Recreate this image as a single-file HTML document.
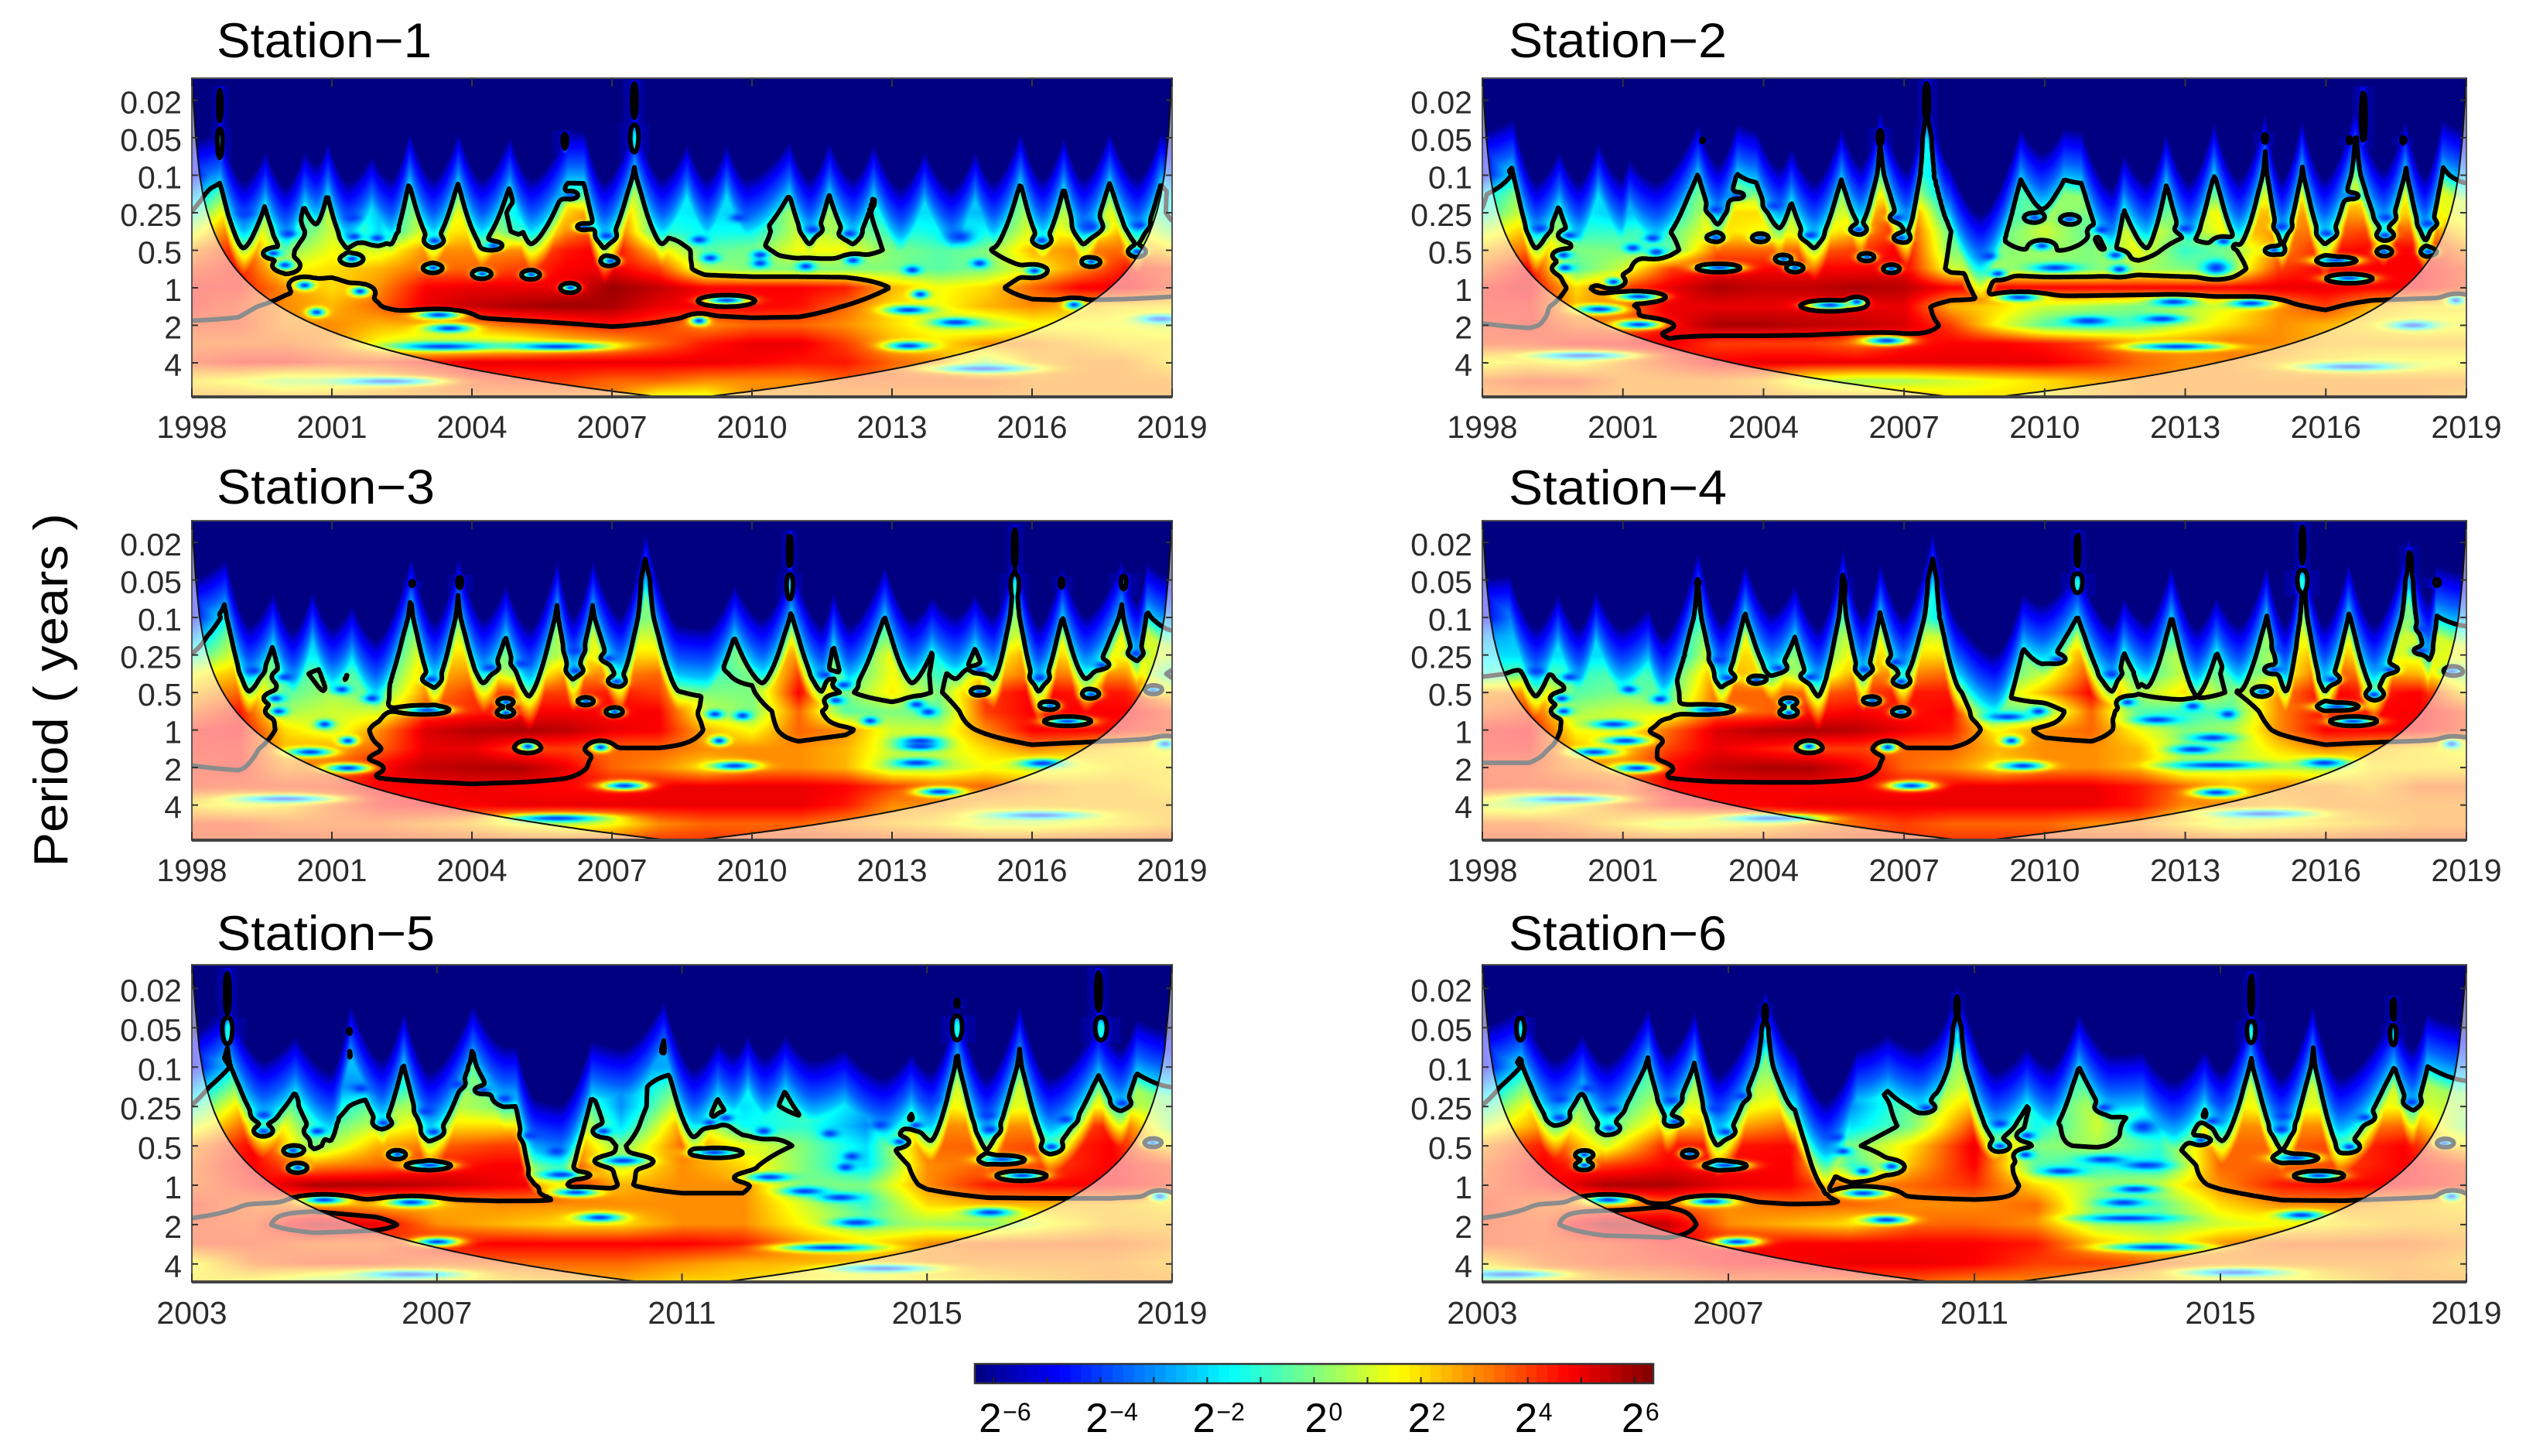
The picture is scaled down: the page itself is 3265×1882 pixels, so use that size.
<!DOCTYPE html>
<html lang="en">
<head>
<meta charset="utf-8">
<title>Wavelet power spectra, stations 1 to 6</title>
<style>
html,body{margin:0;padding:0;background:#fff;}
#page{position:relative;width:3265px;height:1882px;overflow:hidden;background:#fff;font-family:"Liberation Sans",sans-serif;}
#page canvas{position:absolute;display:block;}
#overlay{position:absolute;left:0;top:0;}
</style>
</head>
<body>
<div id="page">
<svg id="overlay" width="3265" height="1882" viewBox="0 0 3265 1882" xmlns="http://www.w3.org/2000/svg">
  <text x="280" y="74" font-size="63" fill="#000" textLength="278" lengthAdjust="spacingAndGlyphs">Station−1</text>
  <text x="1950" y="74" font-size="63" fill="#000" textLength="282" lengthAdjust="spacingAndGlyphs">Station−2</text>
  <text x="280" y="651" font-size="63" fill="#000" textLength="282" lengthAdjust="spacingAndGlyphs">Station−3</text>
  <text x="1950" y="652" font-size="63" fill="#000" textLength="282" lengthAdjust="spacingAndGlyphs">Station−4</text>
  <text x="280" y="1228" font-size="63" fill="#000" textLength="282" lengthAdjust="spacingAndGlyphs">Station−5</text>
  <text x="1950" y="1228" font-size="63" fill="#000" textLength="282" lengthAdjust="spacingAndGlyphs">Station−6</text>
  <text transform="translate(87 892) rotate(-90)" text-anchor="middle" font-size="62" fill="#000" textLength="457" lengthAdjust="spacingAndGlyphs">Period ( years )</text>
</svg>
</div>
<script>
// ---- shared axis data ----
const periodTickLabels = ['0.02','0.05','0.1','0.25','0.5','1','2','4'];
const periodTickOctaves = [-5,-4,-3,-2,-1,0,1,2];
const yearTicksLong = [1998,2001,2004,2007,2010,2013,2016,2019];
const yearTicksShort = [2003,2007,2011,2015,2019];
const colorbarExponents = [-6,-4,-2,0,2,4,6];
const colorbarTickValues = [-6,-5,-4,-3,-2,-1,0,1,2,3,4,5,6];
// power grid rows, octaves of period relative to one year
const gridOctaves = [-3,-2.5,-2,-1.5,-1,-0.5,0,0.5,1,1.5,2,2.5,3];
// significance level in log2 power against octave
const sigOctaves = [-6,-4,-3,-2.5,-2,-1.5,-1,-0.5,0,0.5,1,1.5,2,3];
const sigLevels = [-4,-4,-1.9,-1.7,-1.1,-0.5,0.3,1.5,2.6,3.6,4.3,5.2,5.6,6];
// power reached at a given depth (octaves) below the top of a plume
const plumeDepths = [0,0.6,1,2.2,3];
const plumePower = [-5,-3.6,-2.3,4.5,9];

// ---- Station 1: log2 power, one column per year ----
const station1Power = [
[-5,0,-2,-1.5,-2,-1,-1,-2,0,0.5,-2,-2,-2,-2,-2,-2,-2.5,-3,-1.5,-1.5,-1,-2],
[-3,1.5,-2,-1,-2,0,0,-1.5,1.5,2.5,-1.5,-2,-2,-2,-1.5,-1.5,-2,-2,0,-0.5,0.5,-2],
[-1,3,-2,1,-2.5,1,1.5,-2,2,4,-1.5,-2,-2,1,0,-2,-2,-2.5,1,0.5,1.5,-1.5],
[1,4,-1.5,1,-2,1.5,2,-1,3,4.5,-1,-1.5,-1.5,1,0.5,-1,-1.5,-1.5,1.5,1.5,2.5,0],
[3,4.5,0,1.5,1,3,3,3,4.5,5,2,-0.5,0,1.5,1.5,0,-0.5,0,2.5,3,3.5,2],
[4,4.5,1.5,2,2.5,3.5,3.5,4,4.8,5,4,0.5,0,0,0,0,-0.5,0,1.5,3,4.5,4],
[4.5,4.5,3,2,3,4.8,5,5,5,6,5.5,4.8,4.8,4.8,4.5,2.5,1.5,2,3.5,4.8,5,4],
[4.5,4,3,2.5,3.5,5,5.5,5.8,6,5.8,5,4.8,4.8,4.6,3.5,2,1.5,2.5,3,2.5,2,2],
[4,4,3,3,2.5,2.5,3,3.5,4,4.5,4,3,3.5,3.5,3,2,1,0.5,1.5,1.5,1.5,1],
[3.5,3.5,3.5,3,1.5,0.5,0.5,1,2,2.5,3.5,4.5,5,5,4,2.5,2,3,3,2.5,2,2],
[4,4.5,4.5,4,4,4.5,5,5,5,5,5,5,4.8,4.5,4.5,3.5,3,0.5,2.5,3,3,2],
[2,1.5,0.5,1,2,3,4,4,4,3.5,3.5,3,3,3,3.5,3.5,3.5,3.5,3,3,3,3],
[3,3,3,3,3,3,3,3,3,3,1,1,3,3,3,3,3,3,3,3,3,3]];
const station1Ridge = [[0,-3.25],[0.6,-3.72],[1.1,-2.15],[1.56,-3],[2,-2.03],[2.4,-3],[2.66,-2.62],[2.9,-3.25],[3.33,-2.15],[3.84,-2.86],[4.26,-2.23],[4.65,-3.57],[5.16,-2.23],[5.7,-3.57],[6.2,-2.23],[6.8,-3.4],[7.26,-2.23],[8.04,-3.72],[8.4,-3.65],[8.83,-2.15],[9.48,-4.2],[10.07,-2.23],[10.6,-3.2],[11.03,-2.23],[11.45,-3.2],[11.88,-2.23],[12.8,-3.25],[13.23,-2.23],[13.65,-3.25],[14.16,-2.23],[14.6,-3.2],[15.18,-1.99],[15.69,-3],[16.28,-1.99],[16.78,-3],[17.17,-2.15],[17.75,-3.65],[18.22,-2.23],[18.68,-3.4],[19.1,-2.23],[19.66,-3.72],[20.25,-2.23],[20.76,-3.5],[21,-3.25]];
const station1Spots = [[1.13,-1.99],[2.06,-1.44],[1.73,-0.92],[1.98,-0.6],[3.42,-1.87],[3.47,-1.36],[3.96,-1.32],[3.42,-0.77],[5.19,-1.25],[5.16,-0.53],[6.21,-0.37],[7.26,-0.35],[6.46,-1.12],[8.1,0],[8.1,-2.46],[8.4,-1.63],[8.88,-1.38],[8.97,-0.71],[11.45,0.34,1],[10.86,-1.28],[11.1,-0.79],[12.17,-0.88],[12.17,-0.65],[13.15,-0.57],[14.16,-0.73],[15.43,-0.47],[15.6,0.18],[15.35,0.6,1],[16.36,0.93,1],[15.35,1.56,1],[16.95,2.17,2],[16.45,-1.36,3],[16.87,-0.65],[18.05,-0.45],[18.2,-1.26],[19.24,-1.63,3],[19.27,-0.69],[20.29,-1.67],[20.25,-0.96],[2.4,-0.06],[3.59,0.1],[2.66,0.66],[5.28,0.73,1],[5.5,1.09,1],[5.36,1.58,2],[7.82,1.58,2],[10.86,0.89],[4.18,2.51,2],[20.76,0.84,1],[18.9,0.46],[13.3,-1.55],[14.08,-1.44],[11.7,-1.87]];
const station1Spikes = [[0.6,-5.42,-4.3,-2.8,3],[0.6,-4.3,-3.3,-1.5,4],[9.48,-5.58,-4.4,-2.6,4],[9.48,-4.4,-3.5,-1.5,6],[7.99,-4.2,-3.53,-3,5]];

// ---- Station 2 ----
const station2Power = [
[-5,0,-2,-3,-3,0,0,-2.5,-1,0,-3,-2,-1,-1,-2.5,-2,-2,0,0,0,0,0],
[-2,1,-1.5,-2.5,-2,1,0.5,-1,1,2,-3,-1.5,0,0.5,-1.5,-1,0,1.5,1.5,1.5,1.5,1],
[-1,1.5,-1.5,-2.5,-2,2,2,0,1.5,4.5,-2,-1.5,0.5,0,-1.5,0.5,2,2.5,3,2.5,2,1],
[1,2.5,-1,-1,-0.5,2,1.5,1,2.5,4.8,-0.5,-0.5,1,-0.5,1.5,0,2,3,3.5,4,3.5,2],
[2.5,3.5,0,0,-0.5,3.5,3.5,3.5,4,5,0,0,0.5,0,1.5,-1,0,3,4.5,4.8,4.8,3],
[3.5,4.8,-0.5,1,4,4.8,4.8,4.8,4.8,5,1,0.5,0,0,0.5,0,0.5,4,4.8,4.8,4.8,4],
[4.5,5,2,4,5,5.8,5.5,5.5,5.8,5.6,4.8,4.8,4.8,4.8,4.8,4.8,4.8,5,5,4.8,4.8,4],
[4.5,4.5,2.5,3.5,5,5,5,5,5,5,2.5,2,1,0.5,0,0.5,1.5,3,4,2.5,2,2],
[4.2,4.5,3.5,3.5,4.8,5.8,5.8,5.6,5.5,5.2,4,1.5,-0.5,-1,-0.5,1,2,3,2.5,2,1.5,1.5],
[4,4,4.5,4.5,5,4,4,4,3.5,4.5,4.8,4.8,4.5,4,3,3,3.5,3,2.5,2.5,2.5,2.5],
[1.5,2,1.5,3,4,4.8,5,5,5,5,5,5,5,4.5,3.5,3,3,2.5,2,1.5,1.5,1.5],
[3.5,4,4,3,3,3,2.5,1,0.5,0.5,1,1.5,2,2.5,3,3,3,3,3,3,3,3],
[3,3,3,3,3,3,3,3,3,3,2,2,2,2.5,3,3,3,3,3,3,3,2.5]];
const station2Ridge = [[0,-3.72],[0.64,-4.2],[1.14,-2.15],[1.63,-3],[2.05,-2.15],[2.46,-3.25],[2.96,-2.23],[3.12,-2.78],[3.7,-2.15],[4.6,-4.1],[5.02,-2.62],[5.43,-4.1],[5.84,-3.9],[6.34,-2.54],[6.59,-3.1],[7.08,-2.15],[7.66,-3.96],[8.07,-2.62],[8.49,-4.44],[9.06,-2.46],[9.48,-5.15],[9.97,-2.62],[10.63,-1.28],[11.49,-3.96],[11.95,-2.94],[12.42,-3.96],[12.78,-3.72],[13.44,-1.99],[13.69,-2.94],[14.18,-2.15],[14.6,-3.49],[15.09,-2.15],[15.62,-4.12],[16.16,-2.23],[16.71,-4.36],[17.07,-2.23],[17.5,-4.2],[17.98,-2.23],[18.64,-4.51],[19.25,-2.46],[19.71,-4.2],[20.13,-2.3],[20.5,-4.2],[21,-3.72]];
const station2Spots = [[1.22,-1.58],[1.85,-1.4],[1.72,-0.87],[1.75,-0.53],[3.62,-1.32],[3.2,-1.06],[3.7,-0.95],[2.79,-0.15],[3.33,0.24,1],[2.49,0.58,1],[3.33,0.99,1],[5.43,-2.46],[4.97,-2.09],[4.97,-1.34],[5.05,-0.53,1],[6.22,-2.19],[5.93,-1.33],[6.42,-0.77],[6.67,-0.53],[7,-1.4],[8.02,-1.55],[8.85,-1.87],[8.93,-1.33],[8.2,-0.82],[8.73,-0.51],[7.41,0.47,1],[7.99,0.38],[8.62,1.42,1],[10.8,-0.84],[11,-0.37],[12.23,-0.53,1],[13.6,-0.49],[11.79,-1.87],[12.53,-1.83],[13.22,-1.55],[11.95,-1.12],[13.52,-0.87],[15,-1.58],[15.67,-0.53,3],[15.83,-1.24],[16.9,-1],[17.07,-1.63],[18.03,-1.45],[18.23,-0.73,1],[18.5,-0.25,1],[19.25,-0.96],[19.28,-1.4],[19.3,-1.87],[20.21,-1.71],[20.21,-0.96],[18.56,-2.45],[11.46,0.26,1],[12.94,0.89,1],[14.51,0.84,1],[14.76,0.38,1],[16.41,0.42,1],[14.84,1.58,2],[2.13,1.82,2],[18.56,2.12,2],[19.88,1.01,1],[20.79,0.34]];
const station2Spikes = [[9.48,-5.6,-4.3,-2.6,4],[9.48,-4.3,-3.3,-1.5,5],[18.8,-5.4,-3.7,-2.6,4],[8.49,-4.3,-3.65,-3,5],[16.7,-4.15,-3.8,-3,4],[18.5,-4.05,-3.8,-3,4],[19.65,-4.05,-3.8,-3,4],[4.7,-4,-3.85,-3,3]];

// ---- Station 3 ----
const station3Power = [
[-5,0,-2,-3,-3,0,0,-2,0,0,0,-2,0,1,-2,-1,-2,-1,1,0,1,-1],
[-3,1,-1.5,-3,-2.5,1,1,-2,1,1,1,-2,0,1.5,-1.5,0,-2,0,1.5,1,1.5,0.5],
[-1,1.5,-1.5,-2,-2.5,2,2,-1,1,2,2,-2,1,3,-1.5,1.5,-1.5,1,3,1.5,1.5,1],
[1.5,2.5,-1,0,-1.5,2.5,3,0,3,3,3.5,-1,0,4,-1,1.5,-1,2,3.5,3,3,-1],
[2.5,3.5,-0.5,0.5,-0.5,3,4,4,4,4.5,4,0,0,4.8,0,1.8,0,4,4.8,4.5,4.5,2],
[3.5,4.5,0.5,1,1,4,4.3,4.8,4.8,4.8,4.8,1,0,3.5,-0.5,0,-0.5,4,4.8,4.8,4.8,4],
[4.5,4.8,2,1,3,5.2,5.7,5.8,5.6,5,4.8,2.5,1.5,3.5,3,1,1,3,4.8,4.8,4.5,4],
[4.5,4.5,2.5,3,3.5,5,5,4,4,3.5,3.5,3,3,3,2.5,1,1,2,3,2.5,2,1.5],
[4.2,4.5,3,3.5,4.8,5.5,5.7,5.8,5,3.5,3,2,3,3,2.5,0.5,0.5,1.5,1,1.5,2,2],
[4.2,4,4,4,4.8,4.8,5,4.8,4.7,4.6,5,5,5,5,4.8,4,3.5,3.5,3,2.5,2.5,2],
[2,1.5,2,3.5,4.5,4.8,4.8,5,5,5,5,5,5,5,4.5,3,3,2.5,2.5,2.5,2.5,2.5],
[4,4,3.5,3.5,3.5,3,2.5,1.5,1,1.5,3,3.5,3.5,3.5,3,2.5,2,1,1,1.5,2,2.5],
[4,4,4,4,4,4,4,4,4,4,4.2,4.2,4,4,4,4,4,4,4,4,4,4]];
const station3Ridge = [[0,-3.4],[0.71,-4.26],[1.22,-2.13],[1.73,-3.04],[2.15,-1.97],[2.57,-3.08],[3,-2.05],[3.42,-2.68],[3.93,-1.74],[4.69,-4.34],[5.19,-2.21],[5.7,-4.34],[6.24,-2.29],[6.72,-3.25],[7.22,-2.05],[7.82,-4.26],[8.16,-2.37],[8.58,-4.26],[9.17,-2.37],[9.71,-5],[10.44,-2.13],[11,-2.05],[11.62,-3.24],[12.22,-2.29],[12.84,-4.18],[13.49,-2.13],[13.74,-3.08],[14.08,-2.13],[14.84,-4.1],[15.43,-2.29],[15.85,-2.92],[16.36,-2.37],[16.78,-3],[17.17,-2.37],[17.63,-4.74],[18.14,-2.13],[18.65,-4.1],[19.15,-2.37],[19.92,-4.26],[20.25,-2.76],[20.46,-4.18],[21,-3.4]];
const station3Spots = [[1.3,-1.59],[1.98,-1.42],[1.78,-0.85],[1.84,-0.51],[3.2,-1.09],[3.84,-0.85],[2.83,-0.16],[3.33,0.28],[2.52,0.58,1],[3.33,1.01,1],[9.26,1.48,1],[5.11,-1.36],[5.03,-0.54,1],[6.72,-0.75],[6.72,-0.47],[6.38,-1.67],[7.06,-1.78],[8.21,-2.13],[8.21,-1.59],[9.09,-1.3],[8.44,-0.77],[9.05,-0.49],[8.92,-1.92],[7.19,0.43],[8.75,0.45],[11.29,0.28],[11.62,0.95,1],[11.2,-0.43],[11.79,-0.39],[13.57,-1.48],[13.96,-1.21],[13.79,-0.8],[14.53,-0.25],[15.52,-0.69],[15.77,-0.49],[15.6,0.28,1],[15.6,0.43,1],[15.52,0.87,1],[18.22,0.88,1],[16.02,1.64,1],[18.14,2.27,2],[7.82,2.35,2],[1.98,1.83,2],[18.16,-1.4],[18.39,-0.65],[18.76,-0.24,1],[19.27,-0.96],[20.22,-2.05],[19.49,-1.74],[16.87,-1.62],[16.87,-1.03],[20.59,-1.07],[20.85,0.36]];
const station3Spikes = [[4.72,-4,-3.8,-3,4],[5.74,-4.15,-3.67,-3,5],[9.71,-4.3,-3.35,-2.6,4],[12.81,-5.35,-4.2,-2.8,3],[12.81,-4.2,-3.35,-1.5,5],[17.63,-5.5,-4.2,-2.6,3],[17.63,-4.2,-3.35,-1,6],[18.63,-4.1,-3.7,-3,4],[19.96,-4.2,-3.6,-3,6]];

// ---- Station 4 ----
const station4Power = [
[-5,-2,-2,-3,-3,0,-1,-2,0,0.5,-2.5,-2,-2,1,-2,-1,-2,0,0.5,0,0,-1],
[-3,-2,-1.5,-2.5,-2,1,1.5,-1.5,1.5,1,1,-2,-0.5,1.5,-2,-0.5,-1.5,1,1.5,1,1,1],
[-2,-2,-2,-2,-2.5,2,2,-1,2,2,2,-2,1,3,-1,1,-1.5,1,3,1.5,1,1.5],
[-1,0,-1,-0.5,-1,3,2,0,3,3,3.5,-1,1,4,-1,1,-1,1,4,3,2.5,0],
[3,3,-0.5,0,-0.5,3.5,3.5,3.5,4,4.5,4.5,0.5,2.5,4.8,0.5,2,0,3,4.8,4.5,4.8,2],
[3.5,4,0.5,1,1,3.5,3.5,4.5,4.8,4.5,4.8,-0.5,0,3.5,-0.5,-1,-0.5,3,4.8,4.8,4.8,4],
[4.5,4.8,1.5,1.5,3.5,5.2,5.7,5.8,5.6,5,4.5,1.5,3,3.5,1.5,0,0.5,3,4.8,4.8,4.8,4],
[4.5,4.5,2.5,2.5,4,5,4.5,4,4,3.5,3.5,2.5,3,3,2.5,0.5,0.5,2,3,2.5,2,1.5],
[4,4,3,3,4.8,5.5,5.8,5.8,5,3.5,3,2,3,3,2.5,0.5,1,1,0.5,2,2,2],
[4.2,4,4,3.5,4.8,4.8,4.8,4.8,4.8,4.7,5,5,5,5,4.5,3.5,2.5,3,3,2.5,3.5,3.5],
[1,0.5,2,3.5,4.5,4.8,4.8,5,5,5,5,5,5,5,4.5,3,3,2.5,3,3,3,3],
[3.5,3.5,3,2,1,1.5,2,3,3.5,4,3.5,3.5,3.5,3,3,2,1,1.5,2,2.5,3,3],
[4,4,4,4,4,4,4,4,4,4,4.2,4.2,4,4,4,4,4,4,4,4,4,4]];
const station4Ridge = [[0,-3.4],[0.56,-3.47],[1.14,-2.05],[1.6,-3],[2.05,-2.05],[2.41,-3.08],[2.96,-2.05],[3.53,-2.6],[3.86,-1.82],[4.6,-4.5],[5.1,-2.21],[5.6,-4.18],[6.17,-2.45],[6.67,-3.24],[7.17,-2.05],[7.69,-4.58],[8.12,-2.37],[8.49,-4.18],[8.98,-2.37],[9.61,-5],[10.22,-2.13],[10.93,-1.34],[11.54,-3],[11.95,-2.68],[12.7,-4.1],[13.44,-2.13],[13.69,-2.92],[14.18,-2.21],[14.71,-4.1],[15.25,-2.05],[15.67,-2.92],[16.16,-2.13],[16.74,-4.1],[17.15,-2.13],[17.52,-4.66],[17.98,-2.13],[18.5,-4.18],[19.04,-2.13],[19.79,-4.9],[20.21,-2.76],[20.37,-4.1],[21,-3.55]];
const station4Spots = [[1.14,-1.58],[1.85,-1.42],[1.68,-0.85],[1.72,-0.51],[3.12,-1.09],[3.78,-0.83],[2.79,-0.16,1],[3.04,0.28,1],[2.38,0.58,1],[3.29,1.01,1],[5.05,-1.88],[5.23,-1.4],[4.85,-0.55,1],[5.84,-1.34],[6.31,-1.66],[6.54,-0.75],[6.54,-0.47],[7,-1.42],[8.16,-1.62],[8.93,-1.3],[8.32,-0.79],[8.93,-0.49],[8.82,-1.82],[6.97,0.43],[8.65,0.45],[11.29,0.28],[11.54,0.95,1],[11.21,-0.36,1],[11.87,-0.51],[12.28,-1.89],[13.77,-0.75],[13.44,-1.5],[14.4,-0.28,1],[15.17,-0.65],[15.92,-0.43],[15.59,0.2,1],[15.17,0.51,1],[15.67,0.93,2],[17.98,0.87,1],[15.67,1.66,1],[16.66,2.23,2],[9.15,1.48,1],[6.17,2.35,2],[1.8,1.84,2],[18.14,-1.36],[18.26,-0.63,1],[18.59,-0.24,1],[19.04,-0.95],[20.04,-2.12],[17.07,-2.19],[19.38,-1.62],[20.08,-2.72],[20.7,0.36],[20.7,-1.58],[16.66,-1.03],[16.91,-1.62]];
const station4Spikes = [[4.6,-4,-3.83,-3,3],[7.71,-4.1,-3.24,-2.6,4],[9.61,-4.38,-3.3,-2.6,4],[12.7,-5.37,-4.2,-2.8,3],[12.7,-4.2,-3.6,-1,7],[17.5,-5.56,-4.3,-2.6,3],[17.5,-4.3,-3.6,-1,7],[19.79,-4.93,-3.3,-2.6,4],[20.37,-4.06,-3.79,-3,6]];

// ---- Station 5 ----
const station5Power = [
[-5,0,-3,-2,0,-1,-1,-3,-2.5,-2,-1.5,-3,0,-1,-1,0.5,-2],
[-3,1.5,-3,-3,1,0,-1,-3,0,-1.5,-1,-3,1,1,1,1,-0.5],
[-1,3,-2.5,0,1,0,2,-3,1.5,-2,-0.5,-2.5,2,1,1.5,1.5,0],
[1,4,-1,1,2,2,3.5,-2,3,-1.5,-1,-3,3,3,3,4.5,0],
[3,4.8,0,2.5,3.5,4,4,0,3.5,1.5,0,-2,3.5,3.5,4,4.8,2],
[3.5,4.8,3,3.5,4.5,4.8,4.8,1,3,2,0,-2,3,3.5,4,4.8,4],
[3.5,4.5,5.8,5.8,5.5,5,4.8,2.5,3,3,0,0,3,4.5,4.8,4.8,4.2],
[4.2,3.5,3,2.5,2.5,3,3,3,3,3,1,-1,2,2.5,2.5,2.5,2],
[4,3.8,5.5,5,3,2.5,2,2,3,3,1.5,0,0.5,0,1.5,2.5,2.5],
[4,4,3.5,3.5,4.7,4.8,4.8,4.8,4.8,4.5,3,2,3,3.5,3.5,3.5,3],
[1.5,3.5,4,4,3.5,3.5,3.5,3.5,3,2.5,2.5,2.5,3,3,3,3,2.5],
[2,1.5,0,0,1,2,2.5,2.5,2,2,1.5,1,1.5,2,2.5,3,3],
[2,1.5,0,0,1,2,2.5,2.5,2,2,1.5,1,1.5,2,2.5,3,3]];
const station5Ridge = [[0,-3.25],[0.58,-4.3],[1.16,-2.5],[1.68,-3.14],[2.26,-2.2],[2.58,-4.3],[3.1,-2.5],[3.45,-4.15],[3.87,-2.2],[4.58,-4.3],[5.1,-2.87],[5.29,-2.87],[5.61,-1.52],[6,-1.37],[6.52,-3.02],[7.03,-2.8],[7.7,-4.38],[8.19,-2.27],[8.58,-3.02],[8.84,-2.65],[9.07,-3.17],[9.35,-2.57],[9.68,-3.17],[10.13,-2.5],[10.65,-2.8],[11.29,-2.05],[11.74,-2.72],[12.06,-2.2],[12.49,-4.3],[12.97,-2.05],[13.51,-4.3],[14,-2.05],[14.8,-3.7],[15.16,-2.8],[15.42,-3.92],[16,-3.25]];
const station5Spots = [[1.16,-1.78],[1.16,-1.37],[2.04,-1.37],[1.64,-0.88],[1.72,-0.44],[2.75,-2.46],[3.12,-1.58],[3.35,-0.78],[3.87,-0.5,1],[3.94,-1.35],[3.81,-1.88],[4.32,-2.57],[4.74,-2.42],[5.1,-2.2],[5.51,-1.26],[5.94,-0.86],[7.03,-0.62,1],[6.03,-0.26,1],[6.26,0.19,1],[6.71,-1.37],[2.15,0.38,1],[3.57,0.44,1],[6.65,0.83,1],[4,1.45,1],[10.39,1.6,2],[8.45,-1.59],[8.71,-1.71],[9.33,-1.37],[8.52,-0.83,1],[10.41,-1.31],[10.77,-0.73],[10.67,-0.45],[9.42,-0.2,1],[10,0.16,1],[10.58,0.32,1],[10.84,0.96,1],[13.03,0.7,1],[11.29,2.13,2],[3.55,2.28,2],[11.23,-1.53],[11.81,-1.52],[11.55,-1.1],[13.03,-1.41],[13.23,-0.65,1],[13.55,-0.24,1],[14.03,-0.97],[15.19,-2.08],[12.06,-2.2],[12.99,-1.78],[14.26,-1.67],[15.68,-1.08],[15.8,0.29]];
const station5Spikes = [[0.58,-5.54,-4.2,-2.6,4],[0.58,-4.3,-3.5,-1,7],[2.57,-4,-3.8,-3,3],[4.58,-3.2,-2.68,0,9],[12.49,-4.75,-4.5,-3,3],[12.49,-4.34,-3.62,-1,7],[14.8,-5.54,-4.3,-2.6,4],[14.84,-4.3,-3.62,-1,8]];

// ---- Station 6 ----
const station6Power = [
[-5,0,-2,0,0,0,-3,-1.5,1,-3,-0.5,-3,0,-1,-1,0.5,-2],
[-3,1.5,-2,0.5,0.5,1,-2,-1,1.5,-2,0,-3,1,1,1,1,0],
[-1,2.5,-1.5,1.5,1,2,-3,0,2.5,-1.5,1,-2.5,2,1,1.5,1.5,0.5],
[1,3,-0.5,2.5,2.5,3.5,-2,0,4,-1.5,1,-2,3,3,3,3.5,0],
[3,4.5,1,4.5,4.5,4.7,0,2,5,0,0.5,-1,3.5,3.5,4,4.8,2],
[3.5,4.8,4,4.8,4.8,4.8,-1,2.5,4.8,-0.5,-1,-1.5,3.5,3.5,4,4.8,4],
[3.8,4.5,5.8,5.8,5,4.8,3,3.5,4.2,2,0.5,1,3,4.5,4.8,4.8,4.2],
[4.2,3.5,3,3.5,3,3.5,3.5,3,3,3.5,0,-0.5,2,3,3,2.5,2],
[4,3.8,5.8,5.5,3,2.5,2,3.5,3.5,3,0.5,0,1,1.5,2,2.5,2.5],
[4,3.8,4,4.6,4.8,4.8,4.8,4.8,4.8,4.5,2.5,1.5,3,3.5,3.5,3.5,3],
[2,3.5,4,4.2,4.7,4.8,5,5,4.8,4,4,3.5,3,3,3,3,2.5],
[0,2,2.5,3,3.5,3.5,3.5,3.5,3,3,2.5,2,1,1,2,3,3],
[0,2,2.5,3,3.5,3.5,3.5,3.5,3,3,2.5,2,1,1,2,3,3]];
const station6Ridge = [[0,-3.4],[0.62,-4.22],[1.18,-2.5],[1.62,-3.2],[2,-2.42],[2.69,-4.22],[3,-2.65],[3.45,-4.15],[3.82,-2.12],[4.6,-4.68],[5.08,-2.8],[5.58,-1.44],[6.09,-2.8],[6.59,-3.17],[7.09,-2.8],[7.35,-3.1],[7.72,-4.83],[8.35,-2.2],[8.86,-2.87],[9.23,-2.35],[9.7,-4.08],[10.24,-2.65],[10.74,-2.72],[11.25,-1.97],[11.75,-2.8],[12.03,-2.2],[12.5,-4.22],[13,-2.05],[13.51,-4.3],[13.95,-2.05],[14.83,-4.08],[15.14,-2.8],[15.37,-4.08],[16,-3.4]];
const station6Spots = [[1.25,-2.2],[1.25,-1.71],[1.69,-2.46],[2.1,-1.93],[2.06,-1.44],[1.65,-0.77],[1.65,-0.5],[3.07,-2.16],[3.13,-1.61],[3.37,-0.8],[3.95,-0.5,1],[3.95,-1.35],[3.79,-1.95],[4.2,-2.27],[2.04,0.38,1],[3.7,0.42,1],[6.19,0.21,1],[6.57,0.89,1],[4.14,1.45,1],[6.19,-0.35],[6.65,-0.47],[5.74,-1.22],[5.86,-0.86],[7.22,-1.97],[8.42,-1.56],[8.86,-1.26],[8.42,-0.99],[8.83,-0.77],[10.11,-0.65,1],[9.42,-0.35,1],[10.8,-0.5,1],[10.74,-1.48,3],[11.69,-1.14],[10.62,0.11,1],[10.43,0.45,1],[10.49,0.85,2],[13.32,0.77,1],[10.93,1.59,2],[12.25,2.23,2],[0.43,2.28,2],[13,-1.42],[13.23,-0.69,1],[13.61,-0.24,1],[14.11,-0.97],[15.12,-2.11],[12.03,-2.2],[13.03,-1.76],[14.36,-1.72],[11.87,-1.63],[15.65,-1.07],[15.77,0.29],[10.11,-1.97]];
const station6Spikes = [[0.62,-4.3,-3.6,-1.5,6],[4.6,-4.65,-4.1,-2.8,3],[4.6,-4.1,-3.55,-1.5,5],[7.72,-4.9,-4.1,-2.8,3],[7.72,-4.1,-3.47,-1.5,5],[12.5,-5.46,-4.2,-2.6,3],[12.5,-4.2,-3.55,-1,6],[14.81,-4.83,-4.1,-2.8,3],[14.81,-4.1,-3.47,-1.5,5]];

// ---- model constants ----
const coiFactor = 0.75;
const spotFloor = -4;

const SVG_NS = 'http://www.w3.org/2000/svg';
const page = document.getElementById('page');
const overlay = document.getElementById('overlay');
const spotSizes = [[11,5.5],[28,5.5],[60,5],[18,10]];

const stations = [
 {n:1,power:station1Power,ridge:station1Ridge,spots:station1Spots,spikes:station1Spikes,ticks:yearTicksLong,start:1998,end:2019,x0:248,x1:1515,y0:101,y1:513,yOne:372,perOct:48.5,labelY:566,labelX:235},
 {n:2,power:station2Power,ridge:station2Ridge,spots:station2Spots,spikes:station2Spikes,ticks:yearTicksLong,start:1998,end:2019,x0:1916,x1:3188,y0:101,y1:513,yOne:372,perOct:48.5,labelY:566,labelX:1903},
 {n:3,power:station3Power,ridge:station3Ridge,spots:station3Spots,spikes:station3Spikes,ticks:yearTicksLong,start:1998,end:2019,x0:248,x1:1515,y0:673,y1:1086,yOne:943.6,perOct:48.5,labelY:1139,labelX:235},
 {n:4,power:station4Power,ridge:station4Ridge,spots:station4Spots,spikes:station4Spikes,ticks:yearTicksLong,start:1998,end:2019,x0:1916,x1:3188,y0:673,y1:1086,yOne:943.6,perOct:48.5,labelY:1139,labelX:1903},
 {n:5,power:station5Power,ridge:station5Ridge,spots:station5Spots,spikes:station5Spikes,ticks:yearTicksShort,start:2003,end:2019,x0:248,x1:1515,y0:1247,y1:1657,yOne:1532,perOct:50.9,labelY:1711,labelX:235},
 {n:6,power:station6Power,ridge:station6Ridge,spots:station6Spots,spikes:station6Spikes,ticks:yearTicksShort,start:2003,end:2019,x0:1916,x1:3188,y0:1247,y1:1657,yOne:1532,perOct:50.9,labelY:1711,labelX:1903}
];

function clamp01(v){return v<0?0:(v>1?1:v);}
function jet(v){
  const x=clamp01((v+6.35)/12.7);
  return [
    Math.round(255*clamp01(Math.min(4*x-1.5,-4*x+4.5))),
    Math.round(255*clamp01(Math.min(4*x-0.5,-4*x+3.5))),
    Math.round(255*clamp01(Math.min(4*x+0.5,-4*x+2.5)))
  ];
}
function lerpTable(xs,ys,x){
  if(x<=xs[0])return ys[0];
  for(let i=1;i<xs.length;i++){
    if(x<=xs[i]){const u=(x-xs[i-1])/(xs[i]-xs[i-1]);return ys[i-1]+(ys[i]-ys[i-1])*u;}
  }
  return ys[ys.length-1];
}
function liftTop(o){
  return o-0.35*clamp01((o+3.9)/0.4);
}
function ridgeTop(ridge,t){
  for(let i=1;i<ridge.length;i++){
    if(t<=ridge[i][0]){
      const a=ridge[i-1],b=ridge[i];
      const u=clamp01((t-a[0])/Math.max(1e-6,b[0]-a[0]));
      const aO=liftTop(a[1]),bO=liftTop(b[1]);
      const aTip=aO<bO;
      const tip=aTip?aO:bO,val=aTip?bO:aO;
      const w=aTip?u:1-u;
      return tip+(val-tip)*(1-Math.pow(1-w,1.6));
    }
  }
  return liftTop(ridge[ridge.length-1][1]);
}
function plumeCap(d){
  if(d<0)return plumePower[0]+4*d;
  return lerpTable(plumeDepths,plumePower,d);
}
function gridValue(rows,t,o){
  const nc=rows[0].length;
  const last=gridOctaves.length-1;
  const rf=Math.max(0,Math.min(last,(o-gridOctaves[0])/0.5));
  const cf=Math.max(0,Math.min(nc-1,t));
  const r=Math.min(last-1,Math.floor(rf)),c=Math.min(nc-2,Math.floor(cf));
  const ru=rf-r,cu=cf-c;
  return (rows[r][c]*(1-cu)+rows[r][c+1]*cu)*(1-ru)+(rows[r+1][c]*(1-cu)+rows[r+1][c+1]*cu)*ru;
}

function buildField(s){
  const step=2;
  const w=s.x1-s.x0,h=s.y1-s.y0;
  const nx=Math.floor(w/step)+1,ny=Math.floor(h/step)+1;
  const span=s.end-s.start;
  const pxPerYear=w/span;
  const xOf=t=>s.x0+t*pxPerYear;
  const yOf=o=>s.yOne+o*s.perOct;
  const tOfI=i=>(i*step)/pxPerYear;
  const oOfJ=j=>(s.y0+j*step-s.yOne)/s.perOct;
  const f=new Float32Array(nx*ny);
  const tops=new Float32Array(nx);
  for(let i=0;i<nx;i++)tops[i]=ridgeTop(s.ridge,tOfI(i));
  for(let j=0;j<ny;j++){
    const o=oOfJ(j);
    for(let i=0;i<nx;i++){
      const body=gridValue(s.power,tOfI(i),o);
      const cap=plumeCap(o-tops[i]);
      f[j*nx+i]=Math.max(-6.35,Math.min(body,cap));
    }
  }
  s.spots.forEach(function(sp){
    const size=spotSizes[sp[2]||0];
    const cx=(xOf(sp[0])-s.x0)/step,cy=(yOf(sp[1])-s.y0)/step;
    const rx=size[0]/step,ry=size[1]/step;
    const i0=Math.max(0,Math.floor(cx-rx*3)),i1=Math.min(nx-1,Math.ceil(cx+rx*3));
    const j0=Math.max(0,Math.floor(cy-ry*3)),j1=Math.min(ny-1,Math.ceil(cy+ry*3));
    for(let j=j0;j<=j1;j++)for(let i=i0;i<=i1;i++){
      const dx=(i-cx)/rx,dy=(j-cy)/ry;
      const g=Math.exp(-(dx*dx+dy*dy));
      const k=j*nx+i;
      f[k]=f[k]+g*(Math.min(f[k],spotFloor)-f[k]);
    }
  });
  s.spikes.forEach(function(sk){
    const cx=(xOf(sk[0])-s.x0)/step,wd=sk[4]/step;
    const i0=Math.max(0,Math.floor(cx-wd*3)),i1=Math.min(nx-1,Math.ceil(cx+wd*3));
    for(let j=0;j<ny;j++){
      const o=oOfJ(j);
      if(o<sk[1]||o>sk[2])continue;
      const taper=Math.sqrt(Math.sin(Math.PI*(o-sk[1])/(sk[2]-sk[1])));
      for(let i=i0;i<=i1;i++){
        const dx=(i-cx)/wd;
        const g=Math.exp(-dx*dx)*taper;
        const k=j*nx+i;
        f[k]=Math.max(f[k],-6+(sk[3]+6)*g);
      }
    }
  });
  return {f,nx,ny,step,oOfJ};
}

function drawHeat(s,fd){
  const cv=document.createElement('canvas');
  
  
  cv.width=fd.nx;cv.height=fd.ny;
  cv.style.left=s.x0+'px';cv.style.top=s.y0+'px';
  cv.style.width=(s.x1-s.x0)+'px';cv.style.height=(s.y1-s.y0)+'px';
  const ctx=cv.getContext('2d');
  const im=ctx.createImageData(fd.nx,fd.ny);
  for(let k=0;k<fd.f.length;k++){
    const c=jet(fd.f[k]);
    im.data[k*4]=c[0];im.data[k*4+1]=c[1];im.data[k*4+2]=c[2];im.data[k*4+3]=255;
  }
  ctx.putImageData(im,0,0);
  page.insertBefore(cv,overlay);
}

function contourPath(s,fd){
  const nx=fd.nx,ny=fd.ny,st=fd.step;
  const sig=new Float32Array(ny);
  for(let j=0;j<ny;j++)sig[j]=lerpTable(sigOctaves,sigLevels,fd.oOfJ(j));
  const parts=[];
  const val=(i,j)=>fd.f[j*nx+i]-sig[j];
  function cross(a,b){return a/(a-b);}
  for(let j=0;j<ny-1;j++){
    for(let i=0;i<nx-1;i++){
      const a=val(i,j),b=val(i+1,j),c=val(i+1,j+1),d=val(i,j+1);
      const code=(a>0?1:0)|(b>0?2:0)|(c>0?4:0)|(d>0?8:0);
      if(code===0||code===15)continue;
      const px=s.x0+i*st,py=s.y0+j*st;
      const T=()=>[px+cross(a,b)*st,py];
      const R=()=>[px+st,py+cross(b,c)*st];
      const B=()=>[px+cross(d,c)*st,py+st];
      const L=()=>[px,py+cross(a,d)*st];
      let segs=[];
      switch(code){
        case 1:case 14:segs=[[L(),T()]];break;
        case 2:case 13:segs=[[T(),R()]];break;
        case 4:case 11:segs=[[R(),B()]];break;
        case 8:case 7:segs=[[B(),L()]];break;
        case 3:case 12:segs=[[L(),R()]];break;
        case 6:case 9:segs=[[T(),B()]];break;
        case 5:segs=[[L(),T()],[R(),B()]];break;
        case 10:segs=[[T(),R()],[B(),L()]];break;
      }
      segs.forEach(function(q){
        parts.push('M'+q[0][0].toFixed(1)+' '+q[0][1].toFixed(1)+'L'+q[1][0].toFixed(1)+' '+q[1][1].toFixed(1));
      });
    }
  }
  return parts.join('');
}

function svgEl(tag,attrs){
  const el=document.createElementNS(SVG_NS,tag);
  for(const k in attrs)el.setAttribute(k,attrs[k]);
  return el;
}

function drawPanel(s){
  const fd=buildField(s);
  drawHeat(s,fd);
  const w=s.x1-s.x0,h=s.y1-s.y0;
  const span=s.end-s.start;
  const xOfYear=y=>s.x0+(y-s.start)*w/span;
  const yOf=o=>s.yOne+o*s.perOct;

  const g=svgEl('g',{});
  
  
  overlay.appendChild(g);

  const clip=svgEl('clipPath',{id:'clip-'+s.n});
  clip.appendChild(svgEl('rect',{x:s.x0,y:s.y0,width:w,height:h}));
  g.appendChild(clip);

  const contour=svgEl('path',{d:contourPath(s,fd),fill:'none',stroke:'#000','stroke-width':6,'stroke-linecap':'round','stroke-linejoin':'round','clip-path':'url(#clip-'+s.n+')'});
  
  
  g.appendChild(contour);

  // cone of influence, derived from the distance to the record ends
  const oTop=(s.y0-s.yOne)/s.perOct,oBot=(s.y1-s.yOne)/s.perOct;
  const coiPts=[];
  const samples=260;
  for(let i=0;i<=samples;i++){
    const t=span*i/samples;
    const edge=Math.max(0.001,Math.min(t,span-t));
    const o=Math.log2(coiFactor*edge);
    const clamped=Math.max(oTop,Math.min(oBot,o));
    coiPts.push((s.x0+t*w/span).toFixed(1)+' '+yOf(clamped).toFixed(1));
  }
  const line='M'+coiPts.join('L');
  const shade=svgEl('path',{d:'M'+s.x0+' '+s.y0+'H'+s.x1+'V'+s.y1+'H'+s.x0+'Z'+line+'Z',fill:'#fff','fill-opacity':0.55,'fill-rule':'evenodd','clip-path':'url(#clip-'+s.n+')'});
  
  
  g.appendChild(shade);
  const coi=svgEl('path',{d:line,fill:'none',stroke:'#111','stroke-width':2,'clip-path':'url(#clip-'+s.n+')'});
  
  
  g.appendChild(coi);

  const box=svgEl('rect',{x:s.x0,y:s.y0,width:w,height:h,fill:'none',stroke:'#555','stroke-width':2});
  
  
  g.appendChild(box);
  const base=svgEl('line',{x1:s.x0,x2:s.x1,y1:s.y1,y2:s.y1,stroke:'#444','stroke-width':4});
  
  
  g.appendChild(base);

  periodTickOctaves.forEach(function(o,i){
    const y=yOf(o);
    const t1=svgEl('path',{d:'M'+s.x0+' '+y+'h8M'+s.x1+' '+y+'h-8',stroke:'#333','stroke-width':2,fill:'none'});
    
    
    g.appendChild(t1);
    const lab=svgEl('text',{x:s.labelX,y:y+17,'text-anchor':'end','font-size':41,fill:'#2b2b2b'});
    
    
    lab.textContent=periodTickLabels[i];
    g.appendChild(lab);
  });
  s.ticks.forEach(function(yr){
    const x=xOfYear(yr);
    const t1=svgEl('path',{d:'M'+x+' '+s.y1+'v-11M'+x+' '+s.y0+'v11',stroke:'#333','stroke-width':2,fill:'none'});
    
    
    g.appendChild(t1);
    const lab=svgEl('text',{x:x,y:s.labelY,'text-anchor':'middle','font-size':41,fill:'#2b2b2b'});
    
    
    lab.textContent=String(yr);
    g.appendChild(lab);
  });
}

function drawColorbar(){
  const x0=1260,x1=2137,y0=1763,y1=1788;
  const vMin=-6.35,vMax=6.35;
  const xOf=v=>x0+(v-vMin)*(x1-x0)/(vMax-vMin);
  const g=svgEl('g',{});
  
  
  overlay.appendChild(g);
  const steps=64;
  for(let i=0;i<steps;i++){
    const v=vMin+(vMax-vMin)*(i+0.5)/steps;
    const c=jet(v);
    const r=svgEl('rect',{x:(x0+(x1-x0)*i/steps).toFixed(1),y:y0,width:((x1-x0)/steps+0.6).toFixed(1),height:y1-y0,fill:'rgb('+c.join(',')+')'});
    
    
    g.appendChild(r);
  }
  const box=svgEl('rect',{x:x0,y:y0,width:x1-x0,height:y1-y0,fill:'none',stroke:'#333','stroke-width':2.5});
  
  
  g.appendChild(box);
  colorbarTickValues.forEach(function(v){
    const t=svgEl('line',{x1:xOf(v),x2:xOf(v),y1:y1,y2:y1-8,stroke:'#222','stroke-width':2});
    
    
    g.appendChild(t);
  });
  colorbarExponents.forEach(function(e){
    const left=xOf(e)-(e<0?19:(e===0?12:17));
    const base=svgEl('text',{x:left,y:1851,'font-size':53,fill:'#000'});
    
    
    base.textContent='2';
    g.appendChild(base);
    const sup=svgEl('text',{x:left+31,y:1836,'font-size':32,fill:'#000'});
    
    
    sup.textContent=(e<0?'−':'')+Math.abs(e);
    g.appendChild(sup);
  });
}

stations.forEach(drawPanel);
drawColorbar();
</script>
</body>
</html>
